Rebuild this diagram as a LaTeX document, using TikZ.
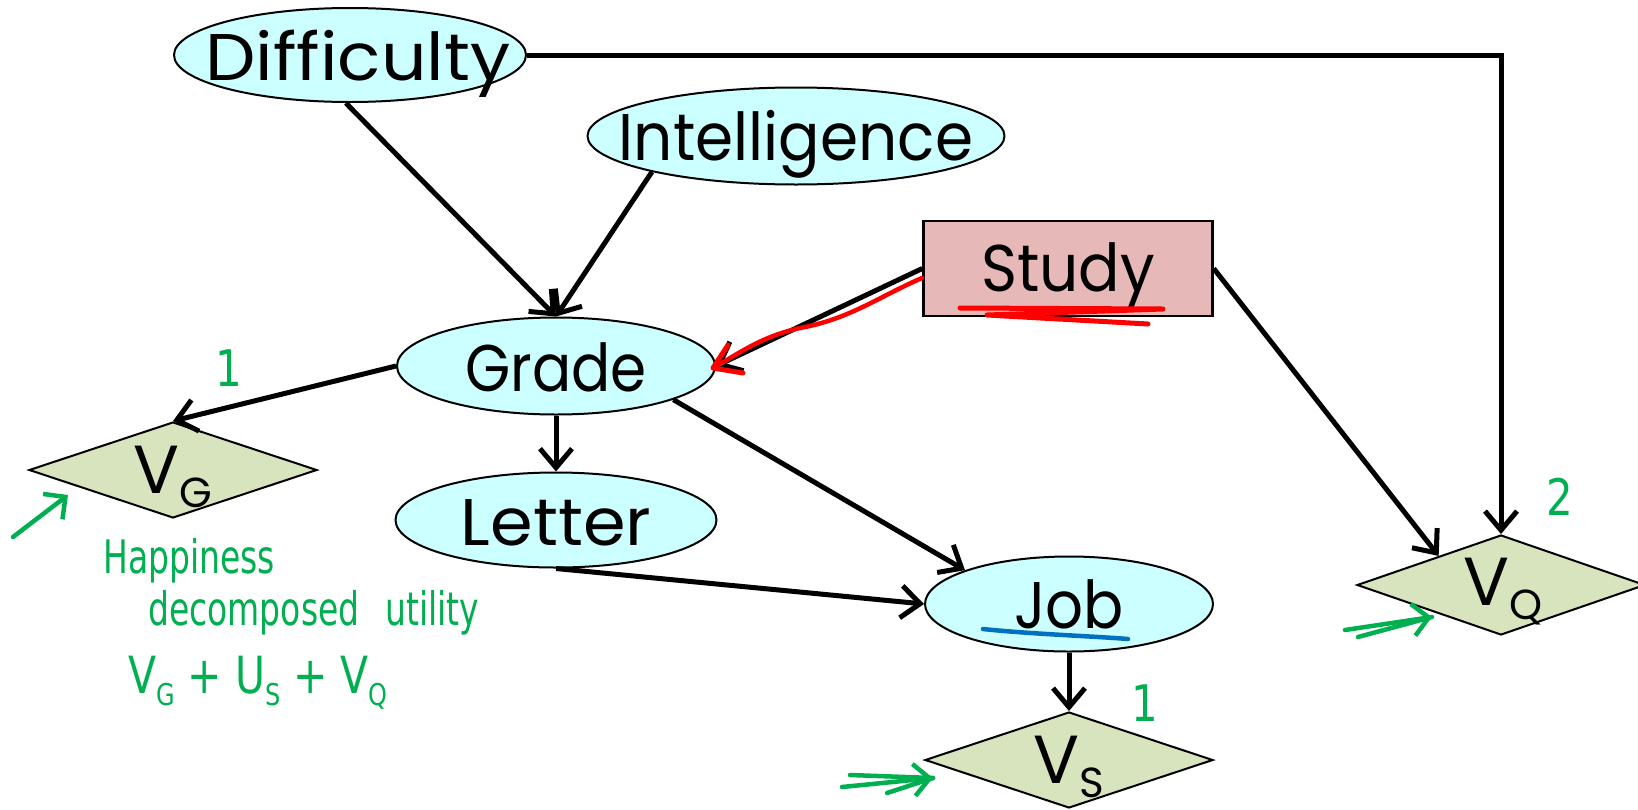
\documentclass[tikz,border=0pt]{standalone}
\usepackage{fontspec}
\setmainfont{Poppins}
\newfontfamily\hand{DejaVu Sans}
\usetikzlibrary{shapes.geometric,arrows.meta}
\definecolor{nodecyan}{HTML}{CCFFFF}
\definecolor{utilgreen}{HTML}{D7E4BD}
\definecolor{studypink}{HTML}{E6B9B8}
\definecolor{inkgreen}{HTML}{00B050}
\definecolor{inkblue}{HTML}{0070C0}
\definecolor{inkred}{HTML}{FF0000}
\newcommand\vsub[2]{#1\raisebox{-14pt}{\fontsize{42}{42}\selectfont #2}}
\newcommand\hsub[2]{#1\raisebox{-10pt}{\fontsize{24}{24}\selectfont #2}}
\newcommand\wscale[2]{\scalebox{#1}[1]{#2}}
\begin{document}
\begin{tikzpicture}[x=1pt,y=-1pt,
  chance/.style={ellipse, draw, fill=nodecyan, line width=2pt, inner sep=0pt},
  util/.style={diamond, draw, fill=utilgreen, line width=2pt, inner sep=0pt,
               minimum width=288pt, minimum height=96pt},
  decision/.style={rectangle, draw, fill=studypink, line width=2.4pt, inner sep=0pt,
               minimum width=289pt, minimum height=95pt},
  lbl/.style={font=\fontsize{66}{66}\selectfont, inner sep=0pt, anchor=base},
  vlbl/.style={font=\fontsize{68}{68}\selectfont, inner sep=0pt, anchor=base},
  conn/.style={line width=5pt, -{Straight Barb[length=19pt,width=32pt]}},
  ink/.style={inkgreen, line width=4.5pt, line cap=round, line join=round},
  inkarrow/.style={ink, -{Straight Barb[length=16pt,width=32pt]}},
  note/.style={text=inkgreen, font=\hand\fontsize{33}{36}\selectfont, inner sep=0pt},
  num/.style={text=inkgreen, font=\hand\fontsize{42}{42}\selectfont, inner sep=0pt},
]
\useasboundingbox (0,0) rectangle (1638,809);
\clip (0,0) rectangle (1638,809);

% shapes
\node[chance, minimum width=352pt, minimum height=94pt] (diff) at (350,55) {};
\node[chance, minimum width=417pt, minimum height=97pt] (intel) at (796,136) {};
\node[decision] (study) at (1068,268.5) {};
\node[chance, minimum width=318pt, minimum height=97pt] (grade) at (556,366) {};
\node[chance, minimum width=321pt, minimum height=95pt] (letter) at (556,520) {};
\node[chance, minimum width=288pt, minimum height=95pt] (job) at (1069,604) {};
\node[util] (vg) at (173,470) {};
\node[util] (vs) at (1069,760) {};
\node[util, minimum height=100pt] (vq) at (1501,585) {};

% labels
\node[lbl] (difft) at ([yshift=-25pt,xshift=8pt]diff.center) {\wscale{1.08}{Difficulty}};
\node[lbl] (intelt) at ([yshift=-24pt]intel.center) {\wscale{0.93}{Intelligence}};
\node[lbl] (studyt) at ([yshift=-23pt]study.center) {\wscale{0.93}{Study}};
\node[lbl] (gradet) at ([yshift=-25pt]grade.center) {\wscale{0.88}{Grade}};
\node[lbl] (lettert) at ([yshift=-25pt]letter.center) {\wscale{1.04}{Letter}};
\node[lbl] (jobt) at ([yshift=-24pt]job.center) {\wscale{0.9}{Job}};
\node[vlbl] (vgt) at ([yshift=-23pt]vg.center) {\vsub{V}{G}};
\node[vlbl] (vst) at ([yshift=-23pt]vs.center) {\vsub{V}{S}};
\node[vlbl] (vqt) at ([yshift=-20pt,xshift=2pt]vq.center) {\vsub{V}{Q}};

% edges
\draw[conn] (diff.east) -| (vq.north);
\draw[conn] (diff.-95) -- (grade.north);
\draw[conn] (intel.-166) -- (grade.north);
\draw[conn] (study.west) -- (grade.east);
\draw[conn] (study.east) -- (vq.155);
\draw[conn] (grade.west) -- (vg.north);
\draw[conn] (grade.south) -- (letter.north);
\draw[conn] (grade.-16) -- (job.162);
\draw[conn] (letter.south) -- (job.west);
\draw[conn] (job.south) -- (vs.north);

% red annotation
\draw[inkred, line width=4.5pt, line cap=round, line join=round]
  (922,278) .. controls (880,296) and (850,319) .. (800,328)
  .. controls (760,337) and (740,353) .. (713,368);
\draw[inkred, line width=5pt, line cap=round, line join=round]
  (728,345) -- (713,368) -- (743,373);
\draw[inkred, line width=5pt, line cap=round, line join=round]
  (960,308) -- (1163,309) -- (987,315) -- (1148,324);

% blue underline
\draw[inkblue, line width=4.5pt, line cap=round]
  (983,629) .. controls (1030,634) and (1090,636) .. (1128,639);

% green annotations
\node[num] (one1) at (229,368) {\scalebox{1}[1.2]{1}};
\node[num] (one2) at (1145,703) {\scalebox{1}[1.2]{1}};
\node[num] (two) at (1560,497) {\scalebox{1}[1.2]{2}};
\node[note, anchor=base west] (happy) at (103,573) {\scalebox{1}[1.4]{Happiness}};
\node[note, anchor=base west] (decomp) at (148,625) {\scalebox{1}[1.4]{decomposed\hspace{26pt}utility}};
\node[note, anchor=base west, font=\hand\fontsize{41}{41}\selectfont] (sum) at (128,693)
  {\scalebox{1}[1.25]{\hsub{V}{G} + \hsub{U}{S} + \hsub{V}{Q}}};

\coordinate (ga1) at (13,537);
\coordinate (ga2) at (68,495);
\draw[inkarrow] (ga1) -- (ga2);

\coordinate (sa1) at (850,775);
\coordinate (sa2) at (842,787);
\coordinate (sa3) at (887,793);
\coordinate (sat) at (933,778);
\draw[ink] (sa1) -- (sat);
\draw[ink] (sa3) -- (sat);
\draw[inkarrow] (sa2) -- (sat);

\coordinate (qa1) at (1345,630);
\coordinate (qa2) at (1358,637);
\coordinate (qat) at (1432,617);
\draw[ink] (qa2) -- (qat);
\draw[inkarrow] (qa1) -- (qat);
\end{tikzpicture}
\end{document}
